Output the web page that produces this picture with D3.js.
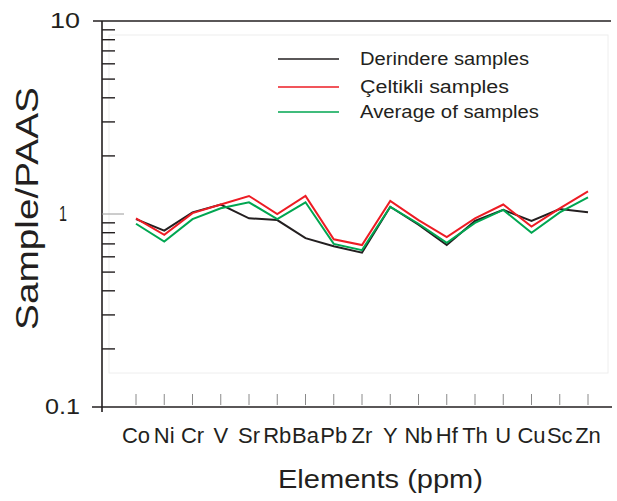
<!DOCTYPE html>
<html>
<head>
<meta charset="utf-8">
<script src="https://cdn.jsdelivr.net/npm/d3@7"></script>
<style>
body { margin: 0; background: #fff; }
text { font-family: "Liberation Sans", Arial, sans-serif; fill: #231f20; }
</style>
</head>
<body>
<div id="grafica"></div>
<script>
var elementos = ['Co', 'Ni', 'Cr', 'V', 'Sr', 'Rb', 'Ba', 'Pb', 'Zr', 'Y', 'Nb', 'Hf', 'Th', 'U', 'Cu', 'Sc', 'Zn'];
var derindere = [0.94, 0.82, 1.02, 1.12, 0.95, 0.93, 0.75, 0.68, 0.63, 1.09, 0.88, 0.69, 0.92, 1.05, 0.92, 1.06, 1.02];
var celtikli = [0.95, 0.78, 1.01, 1.12, 1.24, 1.0, 1.24, 0.74, 0.69, 1.17, 0.93, 0.76, 0.95, 1.12, 0.86, 1.07, 1.31];
var promedio = [0.89, 0.72, 0.94, 1.07, 1.15, 0.94, 1.15, 0.70, 0.65, 1.09, 0.89, 0.71, 0.90, 1.05, 0.80, 1.02, 1.22];
var ymayores = [10, 1, 0.1];
var ymenores = [0.2, 0.3, 0.4, 0.5, 0.6, 0.7, 0.8, 0.9, 2, 3, 4, 5, 6, 7, 8, 9];
var series = [
	{nombre: 'Derindere samples', valores: derindere, color: '#231f20'},
	{nombre: 'Çeltikli samples', valores: celtikli, color: '#ed1c24'},
	{nombre: 'Average of samples', valores: promedio, color: '#00a651'}
];

var esevege = d3.select('#grafica')
	.append('svg')
	.attr('width', 617)
	.attr('height', 501);

var ejeX = 102; // x of vertical axis
var y = d3.scaleLog().domain([0.1, 10]).range([407, 21]);
var x = d3.scalePoint().domain(elementos).range([136, 588]);

// marco interior muy tenue
esevege.append('rect')
	.attr('x', 109).attr('y', 35)
	.attr('width', 499).attr('height', 338)
	.attr('fill', 'none')
	.attr('stroke', '#eeeeee')
	.attr('stroke-width', 1);

// linea superior y eje x
esevege.append('line')
	.attr('x1', 93).attr('x2', 611)
	.attr('y1', y(10)).attr('y2', y(10))
	.attr('stroke', '#231f20').attr('stroke-width', 1.6);
esevege.append('line')
	.attr('x1', 92).attr('x2', 612)
	.attr('y1', y(0.1)).attr('y2', y(0.1))
	.attr('stroke', '#231f20').attr('stroke-width', 1.6);
// eje y
esevege.append('line')
	.attr('x1', ejeX).attr('x2', ejeX)
	.attr('y1', y(10)).attr('y2', y(0.1) + 5)
	.attr('stroke', '#231f20').attr('stroke-width', 1.6);

// marcas menores
esevege.selectAll('.menor')
	.data(ymenores)
	.enter().append('line')
	.attr('class', 'menor')
	.attr('x1', ejeX).attr('x2', ejeX + 13)
	.attr('y1', function(d) { return y(d); })
	.attr('y2', function(d) { return y(d); })
	.attr('stroke', '#231f20').attr('stroke-width', 1.4);

// marca en 1
esevege.append('line')
	.attr('x1', ejeX).attr('x2', ejeX + 22)
	.attr('y1', y(1)).attr('y2', y(1))
	.attr('stroke', '#9a9a9a').attr('stroke-width', 1);

// etiquetas eje y
var etiX = {10: 80, 1: 67, 0.1: 80};
var etiAncho = {10: 30, 1: 8, 0.1: 35};
esevege.selectAll('.ety')
	.data(ymayores)
	.enter().append('text')
	.attr('class', 'ety')
	.attr('x', function(d) { return etiX[d]; })
	.attr('y', function(d) { return y(d) + 7; })
	.attr('text-anchor', 'end')
	.attr('font-size', '22px')
	.attr('textLength', function(d) { return etiAncho[d]; })
	.attr('lengthAdjust', 'spacingAndGlyphs')
	.text(function(d) { return d; });

// marcas del eje x
esevege.selectAll('.mx')
	.data(elementos)
	.enter().append('line')
	.attr('class', 'mx')
	.attr('x1', function(d) { return x(d); })
	.attr('x2', function(d) { return x(d); })
	.attr('y1', y(0.1) - 13).attr('y2', y(0.1) - 2)
	.attr('stroke', '#8a8a8a').attr('stroke-width', 1);

esevege.selectAll('.etx')
	.data(elementos)
	.enter().append('text')
	.attr('class', 'etx')
	.attr('x', function(d) { return x(d); })
	.attr('y', 443)
	.attr('text-anchor', 'middle')
	.attr('font-size', '22px')
	.text(function(d) { return d; });

// lineas de datos
var linea = d3.line()
	.x(function(d, i) { return x(elementos[i]); })
	.y(function(d) { return y(d); });

for (var indx = 0; indx < series.length; indx++) {
	esevege.append('path')
		.datum(series[indx].valores)
		.attr('d', linea)
		.attr('fill', 'none')
		.attr('stroke', series[indx].color)
		.attr('stroke-width', 2);
}

// leyenda
var leyY = [59, 87, 112];
for (var indx = 0; indx < series.length; indx++) {
	esevege.append('line')
		.attr('x1', 278).attr('x2', 339)
		.attr('y1', leyY[indx]).attr('y2', leyY[indx])
		.attr('stroke', series[indx].color)
		.attr('stroke-width', 1.6);
	esevege.append('text')
		.attr('x', 360)
		.attr('y', leyY[indx] + 6)
		.attr('font-size', '17.5px')
		.attr('textLength', [169, 149, 179][indx])
		.attr('lengthAdjust', 'spacingAndGlyphs')
		.text(series[indx].nombre);
}

// titulos
esevege.append('text')
	.attr('x', 278)
	.attr('y', 488)
	.attr('font-size', '25px')
	.attr('textLength', 205)
	.attr('lengthAdjust', 'spacingAndGlyphs')
	.text('Elements (ppm)');

esevege.append('text')
	.attr('transform', 'translate(38,330) rotate(-90)')
	.attr('font-size', '32px')
	.attr('textLength', 243)
	.attr('lengthAdjust', 'spacingAndGlyphs')
	.text('Sample/PAAS');
</script>
</body>
</html>
